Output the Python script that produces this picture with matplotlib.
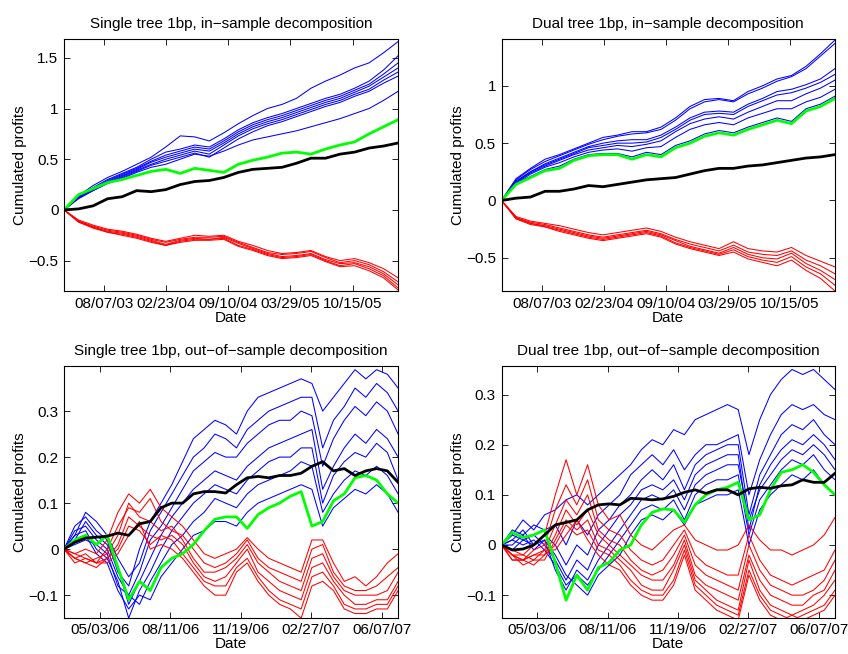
import numpy as np
import pandas as pd
import matplotlib
matplotlib.use("Agg")
import matplotlib.pyplot as plt
import matplotlib.dates as mdates

plt.rcParams['font.family'] = ['Liberation Sans', 'DejaVu Sans']
plt.rcParams['font.size'] = 11

# ---------------- in-sample (24 samples, 03/30/03 .. 03/11/06) ----------------
in_start, in_end, in_n = "2003-03-30", "2006-03-11", 24
in_ticks = ["2003-08-07", "2004-02-23", "2004-09-10", "2005-03-29", "2005-10-15"]

tl_blue = [
    [0, 0.14, 0.24, 0.32, 0.38, 0.45, 0.52, 0.62, 0.73, 0.72, 0.68, 0.76, 0.85, 0.93, 1.0, 1.04, 1.1, 1.2, 1.27, 1.33, 1.4, 1.45, 1.55, 1.66],
    [0, 0.13, 0.22, 0.3, 0.36, 0.42, 0.5, 0.57, 0.6, 0.64, 0.62, 0.7, 0.79, 0.86, 0.91, 0.95, 1.0, 1.05, 1.1, 1.14, 1.2, 1.27, 1.38, 1.52],
    [0, 0.12, 0.21, 0.29, 0.35, 0.41, 0.48, 0.54, 0.58, 0.62, 0.6, 0.68, 0.77, 0.84, 0.89, 0.93, 0.98, 1.03, 1.08, 1.12, 1.18, 1.24, 1.34, 1.45],
    [0, 0.13, 0.2, 0.28, 0.34, 0.4, 0.47, 0.52, 0.56, 0.6, 0.58, 0.66, 0.75, 0.82, 0.87, 0.91, 0.96, 1.01, 1.06, 1.1, 1.16, 1.22, 1.31, 1.4],
    [0, 0.12, 0.2, 0.27, 0.33, 0.39, 0.45, 0.5, 0.54, 0.58, 0.55, 0.64, 0.73, 0.8, 0.85, 0.89, 0.94, 0.99, 1.04, 1.08, 1.14, 1.19, 1.28, 1.36],
    [0, 0.11, 0.19, 0.27, 0.32, 0.38, 0.44, 0.48, 0.52, 0.56, 0.52, 0.61, 0.7, 0.77, 0.83, 0.87, 0.92, 0.97, 1.02, 1.06, 1.12, 1.17, 1.25, 1.32],
    [0, 0.12, 0.19, 0.26, 0.31, 0.37, 0.42, 0.45, 0.5, 0.55, 0.53, 0.58, 0.64, 0.69, 0.72, 0.75, 0.78, 0.82, 0.86, 0.9, 0.95, 1.0, 1.08, 1.17],
]
tl_red = [
    [0, -0.1, -0.15, -0.19, -0.21, -0.24, -0.28, -0.31, -0.28, -0.25, -0.26, -0.25, -0.31, -0.35, -0.4, -0.43, -0.42, -0.4, -0.46, -0.5, -0.48, -0.52, -0.58, -0.67],
    [0, -0.11, -0.16, -0.2, -0.22, -0.25, -0.29, -0.32, -0.29, -0.27, -0.27, -0.26, -0.32, -0.37, -0.42, -0.44, -0.43, -0.41, -0.47, -0.52, -0.5, -0.54, -0.61, -0.71],
    [0, -0.12, -0.17, -0.21, -0.23, -0.26, -0.3, -0.34, -0.3, -0.28, -0.29, -0.27, -0.33, -0.38, -0.43, -0.46, -0.45, -0.43, -0.49, -0.53, -0.52, -0.56, -0.63, -0.74],
    [0, -0.11, -0.17, -0.22, -0.24, -0.27, -0.31, -0.35, -0.31, -0.29, -0.29, -0.28, -0.35, -0.39, -0.44, -0.47, -0.46, -0.44, -0.5, -0.55, -0.53, -0.58, -0.65, -0.77],
    [0, -0.12, -0.18, -0.22, -0.25, -0.28, -0.32, -0.35, -0.32, -0.3, -0.3, -0.29, -0.36, -0.4, -0.45, -0.48, -0.47, -0.45, -0.51, -0.56, -0.55, -0.6, -0.67, -0.79],
]
tl_green = [0, 0.15, 0.21, 0.27, 0.3, 0.34, 0.38, 0.4, 0.36, 0.41, 0.39, 0.37, 0.45, 0.49, 0.52, 0.56, 0.57, 0.55, 0.6, 0.64, 0.67, 0.75, 0.82, 0.89]
tl_black = [0, 0.01, 0.04, 0.11, 0.13, 0.19, 0.18, 0.2, 0.25, 0.28, 0.29, 0.32, 0.37, 0.4, 0.41, 0.42, 0.46, 0.51, 0.51, 0.55, 0.57, 0.61, 0.63, 0.66]

tr_blue = [
    [0, 0.19, 0.28, 0.36, 0.4, 0.45, 0.5, 0.55, 0.57, 0.6, 0.6, 0.64, 0.72, 0.82, 0.88, 0.89, 0.87, 0.95, 1.0, 1.06, 1.09, 1.17, 1.28, 1.4],
    [0, 0.18, 0.27, 0.34, 0.39, 0.44, 0.49, 0.53, 0.56, 0.58, 0.59, 0.62, 0.7, 0.8, 0.86, 0.88, 0.86, 0.93, 0.98, 1.04, 1.08, 1.15, 1.26, 1.37],
    [0, 0.17, 0.25, 0.32, 0.37, 0.42, 0.47, 0.5, 0.52, 0.53, 0.53, 0.57, 0.64, 0.72, 0.77, 0.78, 0.77, 0.84, 0.89, 0.95, 0.97, 1.01, 1.06, 1.15],
    [0, 0.16, 0.25, 0.31, 0.36, 0.41, 0.46, 0.48, 0.5, 0.5, 0.51, 0.55, 0.62, 0.7, 0.75, 0.76, 0.75, 0.82, 0.87, 0.92, 0.94, 0.98, 1.03, 1.1],
    [0, 0.16, 0.24, 0.3, 0.35, 0.4, 0.44, 0.46, 0.48, 0.47, 0.49, 0.52, 0.6, 0.67, 0.71, 0.73, 0.71, 0.77, 0.82, 0.87, 0.87, 0.93, 0.98, 1.05],
    [0, 0.15, 0.23, 0.29, 0.33, 0.38, 0.42, 0.44, 0.45, 0.43, 0.46, 0.47, 0.55, 0.62, 0.66, 0.68, 0.66, 0.72, 0.76, 0.8, 0.8, 0.86, 0.9, 0.97],
    [0, 0.15, 0.21, 0.27, 0.3, 0.36, 0.4, 0.41, 0.41, 0.38, 0.42, 0.4, 0.48, 0.52, 0.58, 0.61, 0.59, 0.64, 0.68, 0.72, 0.69, 0.8, 0.84, 0.91],
]
tr_red = [
    [0, -0.14, -0.18, -0.2, -0.22, -0.25, -0.28, -0.3, -0.28, -0.26, -0.24, -0.27, -0.32, -0.36, -0.39, -0.42, -0.36, -0.42, -0.44, -0.45, -0.41, -0.48, -0.53, -0.58],
    [0, -0.15, -0.19, -0.21, -0.24, -0.27, -0.3, -0.32, -0.3, -0.28, -0.26, -0.29, -0.34, -0.38, -0.41, -0.44, -0.39, -0.45, -0.47, -0.48, -0.44, -0.52, -0.57, -0.64],
    [0, -0.15, -0.2, -0.22, -0.25, -0.28, -0.31, -0.33, -0.31, -0.29, -0.27, -0.3, -0.35, -0.4, -0.43, -0.46, -0.41, -0.47, -0.5, -0.51, -0.46, -0.55, -0.61, -0.69],
    [0, -0.16, -0.2, -0.23, -0.26, -0.29, -0.32, -0.34, -0.32, -0.3, -0.28, -0.31, -0.37, -0.41, -0.44, -0.47, -0.43, -0.49, -0.52, -0.54, -0.49, -0.58, -0.64, -0.74],
    [0, -0.16, -0.21, -0.23, -0.27, -0.3, -0.33, -0.35, -0.33, -0.31, -0.29, -0.32, -0.38, -0.42, -0.45, -0.48, -0.45, -0.51, -0.54, -0.57, -0.52, -0.61, -0.68, -0.79],
]
tr_green = [0, 0.14, 0.2, 0.26, 0.28, 0.35, 0.39, 0.4, 0.4, 0.36, 0.4, 0.38, 0.46, 0.5, 0.56, 0.59, 0.57, 0.62, 0.66, 0.7, 0.67, 0.78, 0.82, 0.89]
tr_black = [0, 0.02, 0.03, 0.08, 0.08, 0.1, 0.13, 0.12, 0.14, 0.16, 0.18, 0.19, 0.2, 0.23, 0.26, 0.28, 0.28, 0.3, 0.31, 0.33, 0.35, 0.37, 0.38, 0.4]

# ---------------- out-of-sample (32 samples, 03/13/06 .. 06/30/07) ----------------
out_start, out_end, out_n = "2006-03-13", "2007-06-30", 32
out_ticks = ["2006-05-03", "2006-08-11", "2006-11-19", "2007-02-27", "2007-06-07"]

bl_blue = [
    [0, 0.05, 0.07, 0.04, 0.02, -0.05, -0.08, 0.0, 0.06, 0.1, 0.14, 0.19, 0.24, 0.26, 0.28, 0.27, 0.25, 0.3, 0.33, 0.34, 0.35, 0.36, 0.37, 0.36, 0.3, 0.33, 0.36, 0.39, 0.37, 0.39, 0.38, 0.35],
    [0, 0.03, 0.08, 0.06, 0.03, -0.02, -0.06, -0.03, 0.04, 0.08, 0.12, 0.16, 0.2, 0.22, 0.25, 0.24, 0.22, 0.26, 0.28, 0.3, 0.31, 0.32, 0.33, 0.33, 0.22, 0.28, 0.31, 0.35, 0.33, 0.36, 0.34, 0.3],
    [0, 0.04, 0.05, 0.02, 0.0, -0.06, -0.1, -0.05, 0.02, 0.05, 0.09, 0.13, 0.17, 0.19, 0.21, 0.2, 0.2, 0.23, 0.25, 0.27, 0.28, 0.28, 0.3, 0.29, 0.18, 0.24, 0.28, 0.31, 0.29, 0.32, 0.3, 0.25],
    [0, 0.02, 0.06, 0.03, 0.01, -0.04, -0.12, -0.07, -0.02, 0.03, 0.07, 0.1, 0.13, 0.15, 0.17, 0.16, 0.15, 0.18, 0.2, 0.22, 0.23, 0.24, 0.25, 0.26, 0.13, 0.18, 0.22, 0.25, 0.23, 0.26, 0.24, 0.2],
    [0, 0.03, 0.04, 0.0, -0.02, -0.07, -0.15, -0.09, -0.05, 0.0, 0.04, 0.07, 0.1, 0.12, 0.14, 0.13, 0.12, 0.15, 0.17, 0.19, 0.2, 0.2, 0.22, 0.22, 0.1, 0.16, 0.19, 0.21, 0.2, 0.23, 0.21, 0.15],
    [0, 0.01, 0.02, 0.01, -0.01, -0.08, -0.1, -0.12, -0.07, -0.03, 0.01, 0.03, 0.06, 0.08, 0.11, 0.1, 0.09, 0.12, 0.14, 0.15, 0.16, 0.17, 0.19, 0.18, 0.08, 0.12, 0.15, 0.17, 0.16, 0.18, 0.16, 0.12],
    [0, 0.02, 0.03, -0.01, -0.03, -0.09, -0.13, -0.1, -0.11, -0.06, -0.03, 0.0, 0.03, 0.04, 0.06, 0.06, 0.05, 0.08, 0.1, 0.11, 0.12, 0.13, 0.14, 0.13, 0.05, 0.09, 0.11, 0.13, 0.12, 0.14, 0.12, 0.08],
]
bl_red = [
    [0, -0.01, 0.0, -0.01, 0.02, 0.08, 0.12, 0.1, 0.13, 0.09, 0.07, 0.05, 0.02, -0.01, -0.02, -0.01, 0.0, 0.025, 0.0, -0.02, -0.03, -0.04, -0.05, 0.02, 0.02, -0.03, -0.07, -0.06, -0.08, -0.06, -0.03, -0.01],
    [0, -0.02, -0.01, -0.03, 0.0, 0.05, 0.09, 0.08, 0.11, 0.06, 0.04, 0.03, 0.0, -0.03, -0.04, -0.03, -0.01, 0.02, -0.02, -0.04, -0.05, -0.06, -0.07, 0.0, 0.01, -0.05, -0.08, -0.09, -0.09, -0.08, -0.06, -0.04],
    [0, -0.02, -0.03, -0.02, -0.01, 0.03, 0.1, 0.07, 0.06, 0.04, 0.05, 0.02, -0.02, -0.05, -0.05, -0.04, -0.02, 0.01, -0.03, -0.05, -0.07, -0.08, -0.09, -0.02, -0.01, -0.06, -0.09, -0.1, -0.1, -0.1, -0.09, -0.05],
    [0, -0.01, -0.02, -0.03, -0.02, 0.01, 0.07, 0.05, 0.03, 0.02, 0.03, 0.01, -0.03, -0.06, -0.07, -0.06, -0.03, 0.0, -0.05, -0.07, -0.09, -0.1, -0.11, -0.04, -0.03, -0.07, -0.1, -0.12, -0.12, -0.11, -0.11, -0.07],
    [0, -0.02, -0.03, -0.04, -0.02, 0.0, 0.05, 0.04, 0.01, 0.03, 0.02, -0.01, -0.04, -0.07, -0.08, -0.08, -0.04, -0.02, -0.06, -0.09, -0.11, -0.12, -0.13, -0.06, -0.05, -0.08, -0.12, -0.13, -0.13, -0.12, -0.12, -0.08],
    [0, -0.03, -0.02, -0.03, -0.03, -0.01, 0.03, 0.06, 0.0, 0.01, 0.0, -0.02, -0.05, -0.08, -0.1, -0.1, -0.05, -0.03, -0.07, -0.1, -0.12, -0.13, -0.15, -0.08, -0.07, -0.09, -0.13, -0.14, -0.14, -0.13, -0.13, -0.09],
]
bl_green = [0, 0.02, 0.03, 0.01, 0.03, -0.04, -0.11, -0.07, -0.09, -0.04, -0.02, -0.01, 0.01, 0.04, 0.065, 0.07, 0.07, 0.045, 0.075, 0.09, 0.1, 0.115, 0.125, 0.05, 0.06, 0.105, 0.12, 0.155, 0.16, 0.15, 0.12, 0.1]
bl_black = [0, 0.015, 0.024, 0.026, 0.028, 0.035, 0.03, 0.055, 0.06, 0.09, 0.1, 0.1, 0.12, 0.125, 0.125, 0.122, 0.14, 0.155, 0.158, 0.155, 0.16, 0.16, 0.165, 0.18, 0.19, 0.17, 0.175, 0.16, 0.17, 0.175, 0.17, 0.145]

br_blue = [
    [0, 0.02, 0.05, 0.03, 0.06, 0.07, 0.09, 0.1, 0.08, 0.1, 0.12, 0.14, 0.16, 0.19, 0.21, 0.2, 0.23, 0.22, 0.25, 0.26, 0.27, 0.28, 0.27, 0.18, 0.25, 0.3, 0.33, 0.35, 0.34, 0.35, 0.33, 0.31],
    [0, 0.03, 0.02, 0.04, 0.03, 0.04, 0.0, 0.05, 0.02, 0.06, 0.08, 0.1, 0.14, 0.16, 0.18, 0.16, 0.19, 0.15, 0.18, 0.2, 0.2, 0.21, 0.22, 0.1, 0.17, 0.22, 0.26, 0.28, 0.27, 0.28, 0.26, 0.25],
    [0, 0.01, 0.03, 0.0, 0.02, 0.0, -0.04, 0.0, -0.02, 0.03, 0.05, 0.08, 0.1, 0.13, 0.15, 0.13, 0.16, 0.11, 0.16, 0.18, 0.19, 0.2, 0.2, 0.06, 0.14, 0.18, 0.22, 0.24, 0.23, 0.25, 0.22, 0.2],
    [0, 0.02, 0.01, 0.02, 0.0, -0.03, -0.07, -0.03, -0.05, 0.0, 0.03, 0.06, 0.08, 0.11, 0.12, 0.11, 0.13, 0.09, 0.14, 0.16, 0.17, 0.18, 0.18, 0.03, 0.12, 0.16, 0.19, 0.21, 0.2, 0.22, 0.2, 0.17],
    [0, 0.0, 0.02, -0.01, 0.01, -0.05, -0.09, -0.05, -0.07, -0.03, 0.0, 0.03, 0.06, 0.09, 0.1, 0.09, 0.11, 0.07, 0.12, 0.14, 0.15, 0.16, 0.16, 0.05, 0.11, 0.14, 0.17, 0.19, 0.18, 0.2, 0.18, 0.15],
    [0, 0.01, 0.0, 0.01, -0.01, -0.04, -0.08, -0.06, -0.08, -0.05, -0.02, 0.01, 0.04, 0.07, 0.08, 0.07, 0.09, 0.05, 0.1, 0.12, 0.13, 0.13, 0.14, 0.02, 0.09, 0.12, 0.15, 0.17, 0.16, 0.18, 0.15, 0.13],
    [0, -0.01, 0.01, 0.0, 0.01, -0.02, -0.06, -0.08, -0.1, -0.06, -0.04, -0.02, 0.02, 0.05, 0.06, 0.05, 0.07, 0.04, 0.08, 0.09, 0.1, 0.1, 0.11, 0.0, 0.07, 0.1, 0.12, 0.14, 0.13, 0.15, 0.12, 0.1],
]
br_red = [
    [0, -0.01, -0.02, 0.0, 0.02, 0.1, 0.17, 0.1, 0.16, 0.08, 0.05, 0.06, 0.02, 0.0, -0.01, 0.01, 0.03, 0.04, 0.01, 0.0, -0.01, -0.01, 0.0, 0.04, 0.01, -0.01, -0.01, -0.02, -0.01, 0.0, 0.02, 0.055],
    [0, -0.02, -0.03, -0.01, 0.0, 0.07, 0.12, 0.08, 0.13, 0.05, 0.03, 0.02, -0.01, -0.03, -0.04, -0.03, 0.0, 0.03, -0.02, -0.04, -0.05, -0.06, -0.06, 0.02, -0.03, -0.06, -0.07, -0.08, -0.07, -0.06, -0.05, -0.01],
    [0, -0.02, -0.02, -0.03, -0.01, 0.04, 0.09, 0.06, 0.1, 0.03, 0.01, 0.0, -0.03, -0.05, -0.06, -0.05, -0.02, 0.02, -0.04, -0.06, -0.07, -0.08, -0.09, 0.0, -0.05, -0.08, -0.09, -0.1, -0.1, -0.09, -0.07, -0.03],
    [0, -0.03, -0.03, -0.02, -0.02, 0.02, 0.07, 0.04, 0.07, 0.02, 0.0, -0.02, -0.04, -0.06, -0.07, -0.07, -0.04, 0.01, -0.06, -0.08, -0.09, -0.1, -0.11, -0.02, -0.07, -0.1, -0.11, -0.12, -0.12, -0.1, -0.09, -0.05],
    [0, -0.02, -0.04, -0.03, -0.03, 0.01, 0.05, 0.03, 0.05, 0.0, -0.01, -0.03, -0.05, -0.08, -0.09, -0.09, -0.05, 0.0, -0.07, -0.09, -0.11, -0.12, -0.13, -0.03, -0.09, -0.12, -0.13, -0.14, -0.13, -0.12, -0.1, -0.07],
    [0, -0.03, -0.03, -0.04, -0.02, 0.0, 0.04, 0.02, 0.03, -0.01, -0.02, -0.04, -0.07, -0.09, -0.1, -0.1, -0.07, -0.01, -0.08, -0.1, -0.12, -0.13, -0.14, -0.05, -0.1, -0.13, -0.14, -0.15, -0.14, -0.13, -0.12, -0.09],
    [0, -0.02, -0.03, -0.02, -0.01, -0.01, 0.02, 0.05, 0.01, -0.02, -0.04, -0.05, -0.08, -0.1, -0.11, -0.11, -0.08, -0.02, -0.09, -0.11, -0.13, -0.14, -0.15, -0.06, -0.11, -0.14, -0.15, -0.14, -0.15, -0.14, -0.13, -0.1],
]
br_green = [0, 0.025, 0.015, 0.02, 0.03, -0.035, -0.11, -0.06, -0.09, -0.045, -0.035, -0.01, 0.0, 0.04, 0.065, 0.072, 0.07, 0.045, 0.08, 0.1, 0.11, 0.115, 0.125, 0.05, 0.06, 0.11, 0.145, 0.15, 0.16, 0.145, 0.12, 0.1]
br_black = [0, -0.01, -0.008, 0.0, 0.02, 0.04, 0.045, 0.05, 0.07, 0.08, 0.082, 0.08, 0.093, 0.092, 0.09, 0.092, 0.097, 0.105, 0.11, 0.103, 0.11, 0.11, 0.1, 0.112, 0.115, 0.113, 0.118, 0.12, 0.13, 0.125, 0.125, 0.143]

titles = ["Single tree 1bp, in\u2212sample decomposition",
          "Dual tree 1bp, in\u2212sample decomposition",
          "Single tree 1bp, out\u2212of\u2212sample decomposition",
          "Dual tree 1bp, out\u2212of\u2212sample decomposition"]

in_dates = pd.date_range(in_start, in_end, periods=in_n)
out_dates = pd.date_range(out_start, out_end, periods=out_n)

panels = [
    dict(pos=[0.0755, 0.555, 0.394, 0.3853], dates=in_dates, blue=tl_blue, red=tl_red, green=tl_green, black=tl_black,
         ylim=(-0.8, 1.685), yt=[-0.5, 0, 0.5, 1, 1.5], ytl=["\u22120.5", "0", "0.5", "1", "1.5"], xt=in_ticks, title=titles[0]),
    dict(pos=[0.5914, 0.555, 0.3933, 0.3853], dates=in_dates, blue=tr_blue, red=tr_red, green=tr_green, black=tr_black,
         ylim=(-0.79, 1.408), yt=[-0.5, 0, 0.5, 1], ytl=["\u22120.5", "0", "0.5", "1"], xt=in_ticks, title=titles[1]),
    dict(pos=[0.0755, 0.0555, 0.394, 0.3849], dates=out_dates, blue=bl_blue, red=bl_red, green=bl_green, black=bl_black,
         ylim=(-0.149, 0.398), yt=[-0.1, 0, 0.1, 0.2, 0.3], ytl=["\u22120.1", "0", "0.1", "0.2", "0.3"], xt=out_ticks, title=titles[2]),
    dict(pos=[0.5914, 0.0555, 0.3933, 0.3849], dates=out_dates, blue=br_blue, red=br_red, green=br_green, black=br_black,
         ylim=(-0.145, 0.357), yt=[-0.1, 0, 0.1, 0.2, 0.3], ytl=["\u22120.1", "0", "0.1", "0.2", "0.3"], xt=out_ticks, title=titles[3]),
]

fig = plt.figure(figsize=(8.48, 6.54), dpi=100)
for p in panels:
    ax = fig.add_axes(p["pos"])
    d = p["dates"]
    for s in p["blue"]:
        ax.plot(d, s, color=(0, 0, 1), lw=0.75)
    for s in p["red"]:
        ax.plot(d, s, color=(1, 0, 0), lw=0.75)
    ax.plot(d, p["green"], color=(0, 1, 0), lw=2.0)
    ax.plot(d, p["black"], color="black", lw=2.0)
    ax.set_xlim(d[0], d[-1])
    ax.set_ylim(*p["ylim"])
    ax.set_yticks(p["yt"])
    ax.set_yticklabels(p["ytl"])
    ax.set_xticks(pd.to_datetime(p["xt"]))
    ax.xaxis.set_major_formatter(mdates.DateFormatter("%m/%d/%y"))
    ax.tick_params(direction="in", top=True, right=True, length=4, width=0.6, labelsize=11, pad=4)
    for sp in ax.spines.values():
        sp.set_linewidth(0.8)
    ax.set_title(p["title"], fontsize=11, pad=8)
    ax.set_xlabel("Date", fontsize=11, labelpad=0)
    ax.set_ylabel("Cumulated profits", fontsize=11, labelpad=1)

fig.savefig("out.png", dpi=100)
